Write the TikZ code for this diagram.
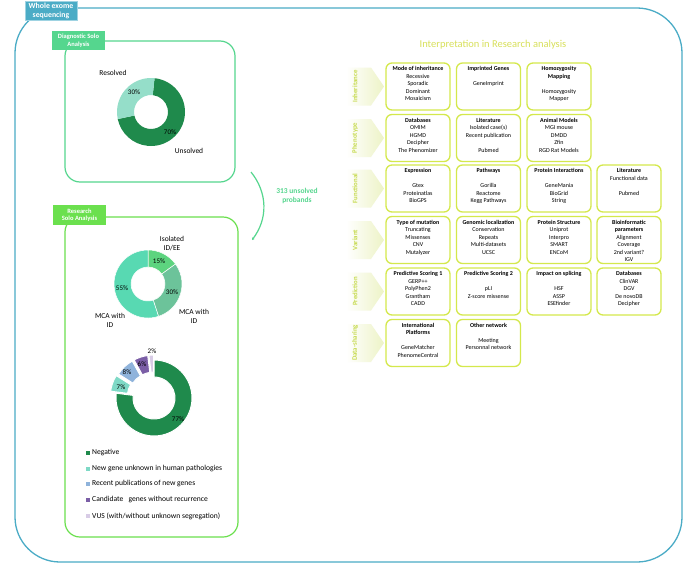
\documentclass[tikz,border=0pt]{standalone}
\usepackage{fontspec}
\setmainfont{Carlito}
\usetikzlibrary{calc,arrows.meta}
\definecolor{frameblue}{HTML}{4BACC6}
\definecolor{frameblueL}{HTML}{9FD3E2}
\definecolor{diaggreen}{HTML}{55D68E}
\definecolor{resgreen}{HTML}{6BE04E}
\definecolor{limeline}{HTML}{D4E84C}
\definecolor{limetext}{HTML}{D8E05A}
\definecolor{rowlabel}{HTML}{C6DA4E}
\definecolor{chev}{HTML}{EDF3C6}
\definecolor{darkg}{HTML}{1F8A4C}
\definecolor{lightaq}{HTML}{95DEC9}
\definecolor{isogreen}{HTML}{5DD47F}
\definecolor{mcagreen}{HTML}{6CC39A}
\definecolor{mcaaqua}{HTML}{58D9B2}
\definecolor{newgene}{HTML}{7ED9C6}
\definecolor{recpub}{HTML}{8FB3DB}
\definecolor{candid}{HTML}{7B5EA6}
\definecolor{vus}{HTML}{D8CCE6}
% donut segment: center, inner r, outer r, start angle, end angle, style
\newcommand{\donutseg}[6]{%
  \path[#6] ($(#1)+(#4:#3)$) arc[start angle=#4,end angle=#5,radius=#3]
    -- ($(#1)+(#5:#2)$) arc[start angle=#5,end angle=#4,radius=#2] -- cycle;}
\newcommand{\gcell}[3]{\node[gridbox] (#1) at (#2) {\parbox[c][40pt][t]{60pt}{\centering #3}};}
\tikzset{
  x=1pt, y=-1pt,
  tagbox/.style={text=white, font=\bfseries\fontsize{6.5}{7.5}\selectfont, align=center,
    inner sep=1pt, minimum width=53, minimum height=19},
  gridbox/.style={draw=limeline, line width=1.3pt, rounded corners=6pt, fill=white,
    inner xsep=2pt, inner ysep=3.5pt, font=\fontsize{6}{7.5}\selectfont},
  rowlab/.style={rotate=90, text=rowlabel, font=\bfseries\fontsize{6.8}{8}\selectfont, inner sep=0pt},
  pielab/.style={font=\fontsize{7.5}{9}\selectfont, align=center, inner sep=0pt},
  pctlab/.style={font=\fontsize{7}{8}\selectfont, inner sep=0pt},
  leglab/.style={font=\fontsize{7.6}{8}\selectfont, anchor=west, inner sep=0pt},
}
\begin{document}
\begin{tikzpicture}
\useasboundingbox (0,0) rectangle (685,570);
\fill[white] (0,0) rectangle (685,570);

% outer frame
\node[draw=frameblue, line width=1.3pt, rounded corners=45pt, minimum width=667, minimum height=554, inner sep=0pt] (frame) at (348.5,285) {};
\node[tagbox, fill=frameblue, draw=frameblueL, line width=0.6pt, font=\bfseries\fontsize{7.8}{9}\selectfont, minimum width=52] (wes) at (51,11) {Whole exome\\sequencing};

% diagnostic box
\node[draw=diaggreen, line width=1.2pt, rounded corners=15pt, minimum width=170, minimum height=141, inner sep=0pt] (dbox) at (150,111.5) {};
\node[tagbox, fill=diaggreen] (dlab) at (78.5,40.5) {Diagnostic Solo\\Analysis};

% donut 1
\coordinate (d1) at (151,112);
\donutseg{d1}{17pt}{34pt}{84}{-168}{fill=darkg}
\donutseg{d1}{17pt}{34pt}{192}{84}{fill=lightaq}
\node[pielab] (resolved) at (113,73) {Resolved};
\node[pielab] (unsolved) at (189,151) {Unsolved};
\node[pctlab] (p30) at (134,92) {30\%};
\node[pctlab] (p70) at (170,132) {70\%};

% connector
\coordinate (arcA) at (251,172);
\coordinate (arcB) at (252,240);
\draw[diaggreen, line width=1.2pt, -{Stealth[length=2.5pt,width=3pt]}] (arcA) to[bend left=38] (arcB);
\node[text=diaggreen, font=\bfseries\fontsize{7.5}{9}\selectfont, align=center] (prob) at (297,196) {313 unsolved\\probands};

% research box
\node[draw=resgreen, line width=1.2pt, rounded corners=15pt, minimum width=173, minimum height=320, inner sep=0pt] (rbox) at (151.5,377) {};
\node[tagbox, fill=resgreen, minimum height=20] (rlab) at (79.5,215) {Research\\Solo Analysis};

% donut 2
\coordinate (d2) at (148,284);
\donutseg{d2}{17pt}{34pt}{90}{36}{fill=isogreen, draw=white, line width=0.5pt}
\donutseg{d2}{17pt}{34pt}{36}{-72}{fill=mcagreen, draw=white, line width=0.5pt}
\donutseg{d2}{17pt}{34pt}{-72}{-270}{fill=mcaaqua, draw=white, line width=0.5pt}
\node[pielab] (iso) at (172,244) {Isolated\\ID/EE};
\node[pielab] (mcar) at (194,316) {MCA with\\ID};
\node[pielab] (mcal) at (110,320) {MCA with\\ID};
\node[pctlab] (p15) at (159,261) {15\%};
\node[pctlab] (p30b) at (172,292) {30\%};
\node[pctlab] (p55) at (122,288) {55\%};

% donut 3 (exploded)
\coordinate (d3) at (154,398);
\coordinate (d3a) at ($(d3)+(160.2:6pt)$);
\coordinate (d3b) at ($(d3)+(133.2:5pt)$);
\coordinate (d3c) at ($(d3)+(108:5pt)$);
\coordinate (d3d) at ($(d3)+(93.6:5pt)$);
\donutseg{d3}{21pt}{38pt}{90}{-187.2}{fill=darkg, draw=white, line width=1pt}
\donutseg{d3a}{21pt}{38pt}{172.8}{147.6}{fill=newgene, draw=white, line width=1pt}
\donutseg{d3b}{21pt}{38pt}{147.6}{118.8}{fill=recpub, draw=white, line width=1pt}
\donutseg{d3c}{21pt}{38pt}{118.8}{97.2}{fill=candid, draw=white, line width=1pt}
\donutseg{d3d}{21pt}{38pt}{97.2}{90}{fill=vus, draw=white, line width=1pt}
\node[pctlab] (p77) at (178,419) {77\%};
\node[pctlab] (p7) at (121,387) {7\%};
\node[pctlab] (p8) at (127,372) {8\%};
\node[pctlab] (p6) at (142,364) {6\%};
\node[pctlab] (p2) at (152,351) {2\%};

% legend
\foreach \yy/\col/\txt [count=\i] in {453/darkg/{Negative}, 469/newgene/{New gene unknown in human pathologies}, 484/recpub/{Recent publications of new genes}, 500/candid/{Candidate\ \ \ genes without recurrence}, 516/vus/{VUS (with/without unknown segregation)}}{
  \fill[\col] (85.5,{\yy-2.3}) rectangle (90,{\yy+2.3});
  \node[leglab] (leg\i) at (92,\yy) {\txt};
}

% right panel
\node[text=limetext, font=\fontsize{10.5}{12}\selectfont] (title) at (493,45) {Interpretation in Research analysis};

\foreach \c/\nm [count=\i] in {86.5/Inheritance, 138/Phenotype, 188.5/Functional, 240/Variant, 291.5/Prediction, 343/Data-sharing}{
  \shade[left color=white, right color=chev] (346,{\c-19}) -- (371,{\c-19}) -- (384,\c) -- (371,{\c+19}) -- (346,{\c+19}) -- cycle;
  \node[rowlab] (row\i) at (355,\c) {\nm};
}

% row 1
\gcell{a1}{418,86.5}{\textbf{Mode of inheritance}\\Recessive\\Sporadic\\Dominant\\Mosaicism}
\gcell{a2}{488.5,86.5}{\textbf{Imprinted Genes}\\\mbox{}\\GeneImprint}
\gcell{a3}{559,86.5}{\textbf{Homozygosity}\\\textbf{Mapping}\\\mbox{}\\Homozygosity\\Mapper}
% row 2
\gcell{b1}{418,138}{\textbf{Databases}\\OMIM\\HGMD\\Decipher\\The Phenomizer}
\gcell{b2}{488.5,138}{\textbf{Literature}\\Isolated case(s)\\Recent publication\\\mbox{}\\Pubmed}
\gcell{b3}{559,138}{\textbf{Animal Models}\\MGI mouse\\DMDD\\Zfin\\RGD Rat Models}
% row 3
\gcell{c1}{418,188.5}{\textbf{Expression}\\\mbox{}\\Gtex\\Proteinatlas\\BioGPS}
\gcell{c2}{488.5,188.5}{\textbf{Pathways}\\\mbox{}\\Gorilla\\Reactome\\Kegg Pathways}
\gcell{c3}{559,188.5}{\textbf{Protein Interactions}\\\mbox{}\\GeneMania\\BioGrid\\String}
\gcell{c4}{629,188.5}{\textbf{Literature}\\Functional data\\\mbox{}\\Pubmed}
% row 4
\gcell{v1}{418,240}{\textbf{Type of mutation}\\Truncating\\Missenses\\CNV\\Mutalyzer}
\gcell{v2}{488.5,240}{\textbf{Genomic localization}\\Conservation\\Repeats\\Multi-datasets\\UCSC}
\gcell{v3}{559,240}{\textbf{Protein Structure}\\Uniprot\\Interpro\\SMART\\ENCoM}
\gcell{v4}{629,240}{\textbf{Bioinformatic}\\\textbf{parameters}\\Alignment\\Coverage\\2nd variant?\\IGV}
% row 5
\gcell{p1}{418,291.5}{\textbf{Predictive Scoring 1}\\GERP++\\PolyPhen2\\Grantham\\CADD}
\gcell{p2}{488.5,291.5}{\textbf{Predictive Scoring 2}\\\mbox{}\\pLI\\Z-score missense}
\gcell{p3}{559,291.5}{\textbf{Impact on splicing}\\\mbox{}\\HSF\\ASSP\\ESEfinder}
\gcell{p4}{629,291.5}{\textbf{Databases}\\ClinVAR\\DGV\\De novoDB\\Decipher}
% row 6
\gcell{s1}{418,343}{\textbf{International}\\\textbf{Platforms}\\\mbox{}\\GeneMatcher\\PhenomeCentral}
\gcell{s2}{488.5,343}{\textbf{Other network}\\\mbox{}\\Meeting\\Personnal network}
\end{tikzpicture}
\end{document}
